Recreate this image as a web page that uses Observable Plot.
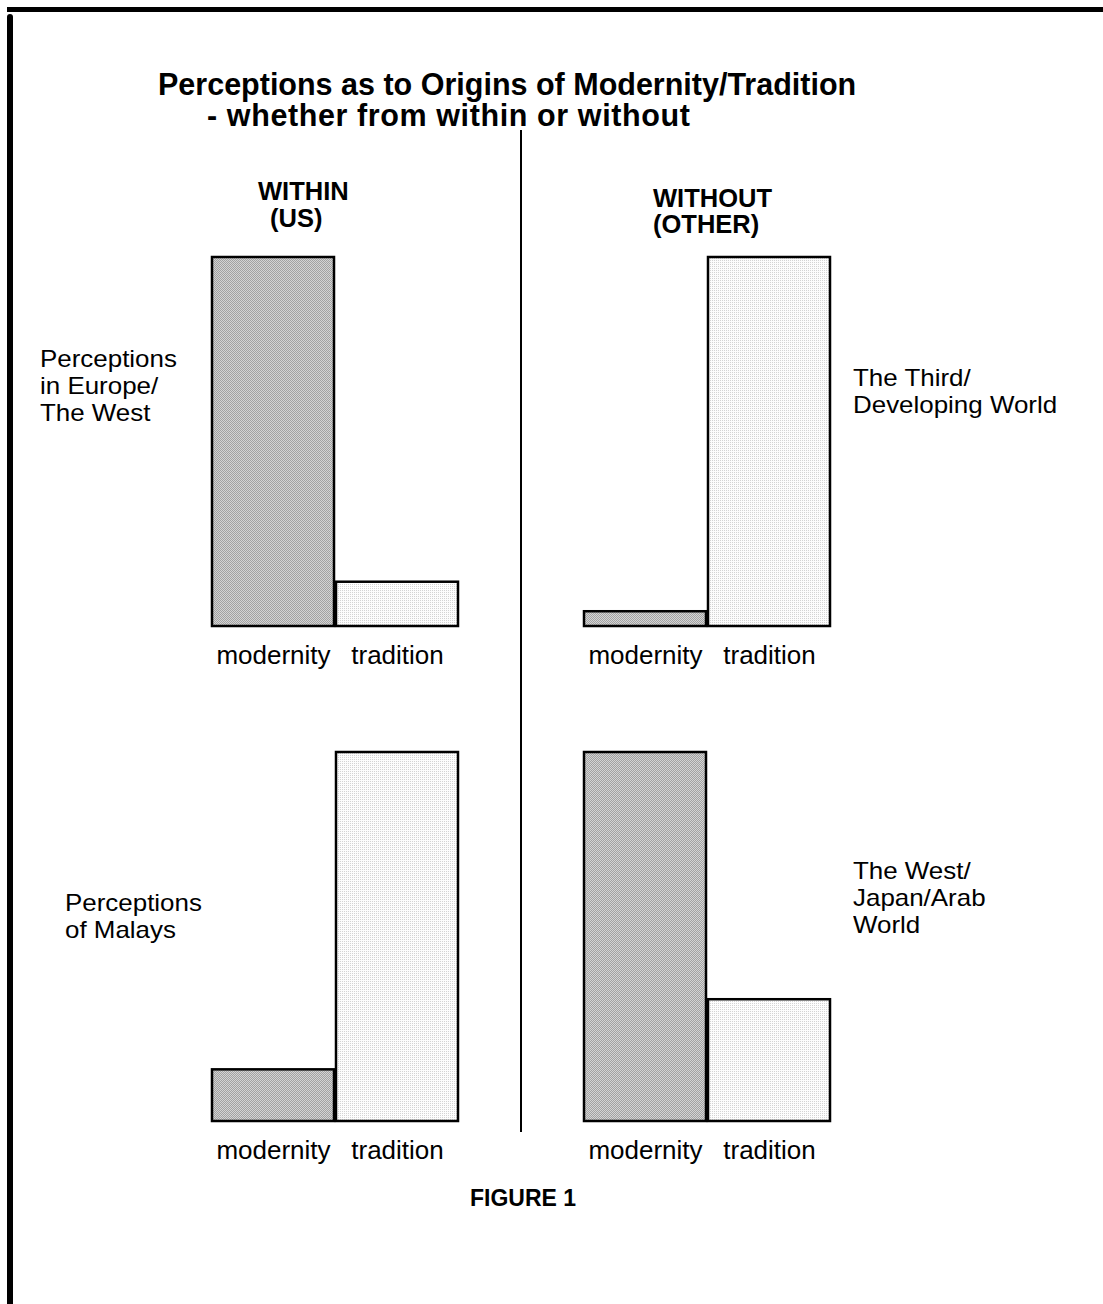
<!DOCTYPE html>
<html>
<head>
<meta charset="utf-8">
<script src="https://cdn.jsdelivr.net/npm/d3@7"></script>
<script src="https://cdn.jsdelivr.net/npm/@observablehq/plot@0.6"></script>
<style>
  html, body { margin: 0; padding: 0; background: #fff; }
  body { width: 1103px; height: 1304px; position: relative; overflow: hidden; font-family: "Liberation Sans", Arial, Helvetica, sans-serif; color: #000; }
  #chart { position: absolute; left: 0; top: 0; }
  .t { position: absolute; white-space: nowrap; }
  .rule { position: absolute; background: #000; }
</style>
</head>
<body>
<svg width="0" height="0" style="position:absolute">
  <defs>
    <pattern id="modPattern" width="2" height="2" patternUnits="userSpaceOnUse">
      <rect width="2" height="2" fill="#d4d4d4"></rect>
      <rect x="0" y="0" width="1" height="1" fill="#a2a2a2"></rect>
      <rect x="1" y="1" width="1" height="1" fill="#a2a2a2"></rect>
    </pattern>
    <pattern id="tradPattern" width="2" height="2" patternUnits="userSpaceOnUse">
      <rect width="2" height="2" fill="#fdfdfd"></rect>
      <rect x="0" y="0" width="1" height="1" fill="#d4d4d4"></rect>
    </pattern>
  </defs>
</svg>
<div id="chart"></div>
<script>
// ---- data ----
const titleLines = ["Perceptions as to Origins of Modernity/Tradition", "- whether from within or without"];
const sides = ["within", "without"];
const sideHeadings = [["WITHIN", "(US)"], ["WITHOUT", "(OTHER)"]];
const rows = ["west", "malays"];
const rowLabelsWithin = [["Perceptions", "in Europe/", "The West"], ["Perceptions", "of Malays"]];
const rowLabelsWithout = [["The Third/", "Developing World"], ["The West/", "Japan/Arab", "World"]];
const categories = ["modernity", "tradition"];
const westWithin = [100, 12];
const westWithout = [4, 100];
const malaysWithin = [14, 100];
const malaysWithout = [100, 33];
const caption = "FIGURE 1";

// ---- table ----
const series = [
  ["west", "within", westWithin],
  ["west", "without", westWithout],
  ["malays", "within", malaysWithin],
  ["malays", "without", malaysWithout]
];
const table = series.flatMap(([row, side, vals]) =>
  categories.map((c, i) => ({row, side, category: c, value: vals[i]})));

const chart = Plot.plot({
  width: 1103,
  height: 1304,
  marginLeft: 211,
  marginRight: 272,
  marginTop: 257,
  marginBottom: 182,
  style: {background: "transparent", fontFamily: "Liberation Sans, Arial, sans-serif", overflow: "visible"},
  fx: {domain: sides, paddingInner: 1/3, paddingOuter: 0, axis: null, label: null},
  fy: {domain: rows, paddingInner: 0.2543, paddingOuter: 0, axis: null, label: null},
  x: {domain: categories, padding: 0, axis: null},
  y: {domain: [0, 100], axis: null},
  color: {type: "ordinal", domain: categories, range: ["url(#modPattern)", "url(#tradPattern)"]},
  marks: [
    Plot.barY(table, {
      x: "category", y: "value", fx: "side", fy: "row",
      fill: "category", stroke: "#000", strokeWidth: 2.5, insetLeft: 1, insetRight: 1
    }),
    Plot.text(table, {
      x: "category", fx: "side", fy: "row", text: "category",
      frameAnchor: "bottom", dy: 37, fontSize: 26, fill: "#000"
    })
  ]
});
document.getElementById("chart").appendChild(chart);

// ---- annotations (HTML text) ----
// One block per label; lines separated by <br>, first baseline placed at `baseline`.
function block(lines, left, baseline, gap, size, weight, lineStyles, stretch) {
  const d = document.createElement("div");
  d.className = "t";
  d.style.fontSize = size + "px";
  d.style.lineHeight = gap + "px";
  d.style.fontWeight = weight;
  d.style.left = left + "px";
  if (stretch) { d.style.transform = "scaleX(" + stretch + ")"; d.style.transformOrigin = "0 0"; }
  const baseOffset = (gap - 1.117 * size) / 2 + 0.905 * size;
  d.style.top = (baseline - baseOffset) + "px";
  lines.forEach((line, i) => {
    if (i > 0) d.appendChild(document.createElement("br"));
    const s = document.createElement("span");
    s.textContent = line;
    if (lineStyles && lineStyles[i]) Object.assign(s.style, lineStyles[i]);
    d.appendChild(s);
  });
  document.body.appendChild(d);
}
block(titleLines, 158, 95, 31, 30.5, "bold",
  [null, {marginLeft: "49px", letterSpacing: "0.6px"}]);
block(sideHeadings[0], 258, 200, 27, 25.5, "bold", [null, {marginLeft: "12px"}]);
block(sideHeadings[1], 653, 207, 26, 25.5, "bold");
block(rowLabelsWithin[0], 40, 367, 27, 24, "normal", null, 1.08);
block(rowLabelsWithin[1], 65, 911, 27, 24, "normal", null, 1.08);
block(rowLabelsWithout[0], 853, 386, 27, 24, "normal", null, 1.08);
block(rowLabelsWithout[1], 853, 879, 27, 24, "normal", null, 1.08);
block([caption], 470, 1206, 26, 23, "bold");

// ---- frame rules ----
function rule(left, top, w, h, radius) {
  const d = document.createElement("div");
  d.className = "rule";
  Object.assign(d.style, {left: left + "px", top: top + "px", width: w + "px", height: h + "px"});
  if (radius) d.style.borderRadius = radius;
  document.body.appendChild(d);
}
rule(7, 7, 1096, 5);
rule(7, 14, 6, 1300, "3px 3px 0 0");
rule(520, 130, 2, 1002);
</script>
</body>
</html>
